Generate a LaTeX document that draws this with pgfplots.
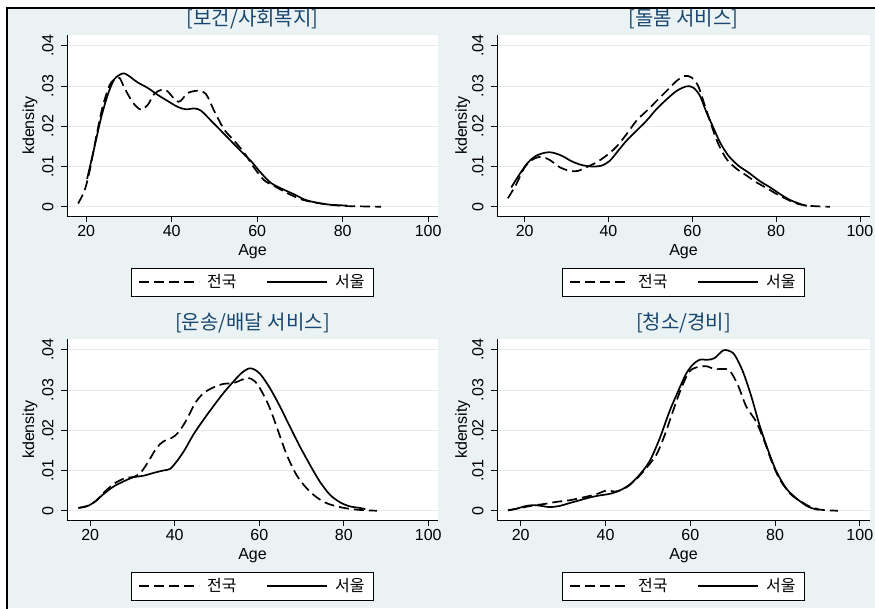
\documentclass[border=0pt]{standalone}
\usepackage{fontspec}
\setmainfont{Liberation Sans}
\newfontfamily\kr{Noto Sans CJK KR}
\usepackage{pgfplots}
\pgfplotsset{compat=1.18}
\definecolor{bgc}{HTML}{EAF2F3}
\definecolor{gridc}{HTML}{E2ECEF}
\definecolor{titc}{HTML}{1A476F}
\pgfplotsset{
 kd/.style={
  scale only axis, height=181pt,
  anchor=south west,
  ymin=-0.0023, ymax=0.04266,
  enlargelimits=false,
  axis x line=bottom, axis y line=left,
  x axis line style={-, line width=0.8pt}, y axis line style={-, line width=0.8pt},
  axis background/.style={fill=white},
  tick align=outside, major tick length=6pt,
  tick style={black, line width=0.8pt},
  xtick={20,40,60,80,100},
  xticklabels={20,40,60,80,100},
  ytick={0,0.01,0.02,0.03,0.04},
  yticklabels={0,.01,.02,.03,.04},
  scaled y ticks=false,
  /pgf/number format/assume math mode=true,
  tick label style={font=\fontsize{16}{19}\selectfont},
  yticklabel style={xshift=-4pt, rotate=90, anchor=south},
  ymajorgrids, grid style={gridc, line width=0.8pt},
  xlabel={Age}, ylabel={kdensity},
  label style={font=\fontsize{16}{19}\selectfont},
  xlabel style={at={(axis description cs:0.5,-0.197)}, anchor=center},
  title style={font=\kr\fontsize{20}{23}\selectfont, color=titc, at={(axis description cs:0.5,1.055)}, anchor=center},
  legend style={at={(axis description cs:0.5,-0.287)}, anchor=north,
    draw=black, line width=0.6pt, fill=white,
    inner xsep=7pt, inner ysep=4.5pt,
    font=\kr\fontsize{16}{19}\selectfont,
    /tikz/every odd column/.append style={column sep=5pt},
    /tikz/every even column/.append style={column sep=28pt}},
  legend columns=2,
  legend image code/.code={\draw[#1] (0pt,0pt) -- (60pt,0pt);},
 },
 nat/.style={black, line width=1.7pt, dash pattern=on 10pt off 5pt, smooth},
 seo/.style={black, line width=1.7pt, smooth},
}
\begin{document}
\begin{tikzpicture}
\useasboundingbox (0,0) rectangle (875pt,608pt);
\fill[white] (0,0) rectangle (875pt,608pt);
\fill[bgc] (7pt,0) rectangle (875pt,600pt);
\draw[line width=1.8pt] (6.7pt,-5pt) -- (6.7pt,600.3pt) -- (880pt,600.3pt);

% Panel 1
\begin{axis}[kd, at={(67pt,392pt)}, width=371pt, xmin=15.5, xmax=102.3,
  title={[보건/사회복지]},
  ylabel style={at={(axis description cs:-0.0997,0.5)}, anchor=center}]
\addplot[nat] coordinates {(18.1,0.0008)(19.6,0.004)(20.8,0.0089)(22.3,0.0172)(23.8,0.0247)(25.4,0.030)(26.6,0.0317)(27.8,0.032)(28.9,0.0296)(30.9,0.0259)(32.8,0.0241)(34.4,0.0253)(35.9,0.028)(37.5,0.029)(39.0,0.0287)(41.0,0.0263)(42.1,0.0263)(43.7,0.0282)(46.0,0.0288)(48.0,0.028)(49.9,0.0239)(52.2,0.0193)(54.6,0.0164)(56.9,0.0135)(59.2,0.0098)(61.6,0.0066)(63.9,0.0052)(67.0,0.0034)(70.1,0.0019)(73.2,0.0011)(76.3,0.0006)(80.2,0.0002)(84.1,0.0001)(89.0,0.0)};
\addplot[seo] coordinates {(20.2,0.0069)(21.9,0.0147)(23.5,0.0222)(25.1,0.028)(26.6,0.0317)(28.5,0.0331)(29.7,0.0327)(32.0,0.0309)(34.4,0.0295)(36.7,0.0278)(39.0,0.0263)(41.4,0.0248)(43.3,0.0242)(45.3,0.0244)(46.8,0.0239)(49.1,0.0215)(51.5,0.0189)(53.8,0.0164)(56.1,0.0139)(58.5,0.0114)(60.8,0.0085)(63.1,0.006)(65.5,0.0046)(68.6,0.0031)(71.3,0.0017)(74.0,0.001)(77.1,0.0005)(81.0,0.0003)};
\legend{전국, 서울}
\end{axis}

% Panel 2
\begin{axis}[kd, at={(497pt,392pt)}, width=373pt, xmin=13.4, xmax=102.4,
  title={[돌봄 서비스]},
  ylabel style={at={(axis description cs:-0.092,0.5)}, anchor=center}]
\addplot[nat] coordinates {(16.0,0.0021)(18.0,0.0056)(20.0,0.0098)(22.0,0.0118)(24.0,0.0124)(26.0,0.0116)(28.4,0.0098)(30.8,0.0089)(32.7,0.0089)(34.7,0.0098)(37.1,0.011)(39.5,0.0127)(41.9,0.0149)(44.3,0.018)(46.7,0.0214)(49.1,0.0238)(51.5,0.0263)(53.9,0.0288)(56.3,0.0313)(58.2,0.0325)(59.8,0.0321)(61.4,0.03)(63.0,0.0251)(64.6,0.0201)(66.2,0.0156)(68.2,0.0118)(70.6,0.0094)(73.0,0.0077)(75.4,0.006)(77.8,0.0046)(80.2,0.0031)(82.5,0.0019)(84.9,0.0008)(87.3,0.0003)(90.0,0.0001)(92.8,0.0)};
\addplot[seo] coordinates {(16.8,0.0048)(18.8,0.0081)(20.8,0.011)(22.8,0.0127)(24.8,0.0134)(26.4,0.0135)(28.8,0.0127)(31.2,0.0113)(33.5,0.0104)(35.9,0.01)(38.3,0.0102)(40.3,0.0114)(42.3,0.0139)(44.3,0.0164)(46.7,0.0189)(49.1,0.0214)(51.5,0.0243)(53.9,0.0267)(56.3,0.0288)(58.6,0.0299)(60.2,0.0296)(61.8,0.0276)(63.4,0.0234)(65.0,0.0197)(66.6,0.016)(68.6,0.0127)(71.0,0.0102)(73.4,0.0085)(76.2,0.0063)(78.6,0.0048)(81.0,0.0031)(83.3,0.0017)(85.7,0.0007)(87.3,0.0002)};
\legend{전국, 서울}
\end{axis}

% Panel 3
\begin{axis}[kd, at={(67pt,88pt)}, width=371pt, xmin=14.5, xmax=102.3,
  title={[운송/배달 서비스]},
  ylabel style={at={(axis description cs:-0.0997,0.5)}, anchor=center}]
\addplot[nat] coordinates {(17.2,0.0007)(19.6,0.0013)(21.6,0.0027)(23.5,0.0048)(25.9,0.0069)(28.3,0.0081)(30.6,0.0085)(32.2,0.0098)(33.8,0.0123)(35.7,0.0156)(37.3,0.0172)(39.3,0.0181)(40.9,0.0195)(42.8,0.0226)(44.8,0.0267)(46.8,0.0292)(49.1,0.0306)(51.5,0.0315)(53.9,0.0317)(55.8,0.0325)(57.4,0.033)(59.0,0.0321)(60.6,0.0296)(62.5,0.0255)(64.5,0.0197)(66.5,0.0139)(68.8,0.0089)(71.2,0.0056)(73.5,0.0034)(75.9,0.0019)(78.3,0.0011)(80.6,0.0006)(83.8,0.0002)(87.9,0.0)};
\addplot[seo] coordinates {(17.2,0.0007)(19.2,0.0011)(21.2,0.0023)(23.1,0.0041)(25.5,0.006)(27.9,0.0073)(30.2,0.0083)(32.6,0.0087)(35.0,0.0094)(37.3,0.01)(38.9,0.0104)(40.5,0.0123)(42.4,0.0152)(44.4,0.0189)(46.8,0.0226)(49.1,0.0259)(51.5,0.0292)(53.9,0.0321)(55.8,0.0342)(57.4,0.0353)(58.6,0.0352)(60.2,0.034)(62.5,0.0305)(64.9,0.0259)(67.2,0.021)(69.6,0.016)(72.0,0.0114)(74.3,0.0073)(76.7,0.004)(79.1,0.0021)(81.4,0.0011)(83.8,0.0007)(85.1,0.0004)};
\legend{전국, 서울}
\end{axis}

% Panel 4
\begin{axis}[kd, at={(497pt,88pt)}, width=373pt, xmin=14.4, xmax=102.4,
  title={[청소/경비]},
  ylabel style={at={(axis description cs:-0.092,0.5)}, anchor=center}]
\addplot[nat] coordinates {(17.0,0.0001)(20.5,0.0008)(22.9,0.0013)(25.7,0.0017)(28.4,0.0022)(31.5,0.0026)(34.7,0.0033)(37.8,0.0041)(40.2,0.005)(42.5,0.0048)(44.9,0.0058)(47.3,0.0079)(49.6,0.0106)(52.0,0.0139)(54.0,0.0189)(55.9,0.0247)(57.9,0.0305)(59.8,0.0346)(61.8,0.0357)(63.8,0.0359)(65.7,0.0352)(67.7,0.0352)(69.3,0.0348)(71.2,0.0313)(73.2,0.0259)(75.5,0.0222)(77.5,0.0172)(79.5,0.0114)(81.4,0.0073)(83.8,0.004)(86.1,0.0023)(88.1,0.0011)(90.5,0.0003)(92.5,0.0001)(94.8,0.0)};
\addplot[seo] coordinates {(17.0,0.0001)(19.0,0.0005)(20.9,0.0011)(22.9,0.0014)(24.9,0.0012)(26.8,0.0009)(29.2,0.0012)(31.5,0.0019)(33.9,0.0026)(36.3,0.0033)(38.6,0.0038)(41.0,0.0042)(43.3,0.005)(45.7,0.0065)(48.0,0.0089)(50.4,0.0123)(52.8,0.018)(55.1,0.0247)(57.1,0.0296)(59.0,0.034)(60.6,0.0363)(62.2,0.0375)(64.1,0.0375)(65.7,0.0379)(67.7,0.0398)(68.9,0.0398)(70.4,0.0388)(72.4,0.0346)(74.4,0.0284)(76.3,0.0214)(78.3,0.0152)(80.3,0.0098)(82.6,0.0056)(85.0,0.0031)(87.3,0.0013)(88.5,0.0007)(90.3,0.0002)};
\legend{전국, 서울}
\end{axis}
\end{tikzpicture}
\end{document}
